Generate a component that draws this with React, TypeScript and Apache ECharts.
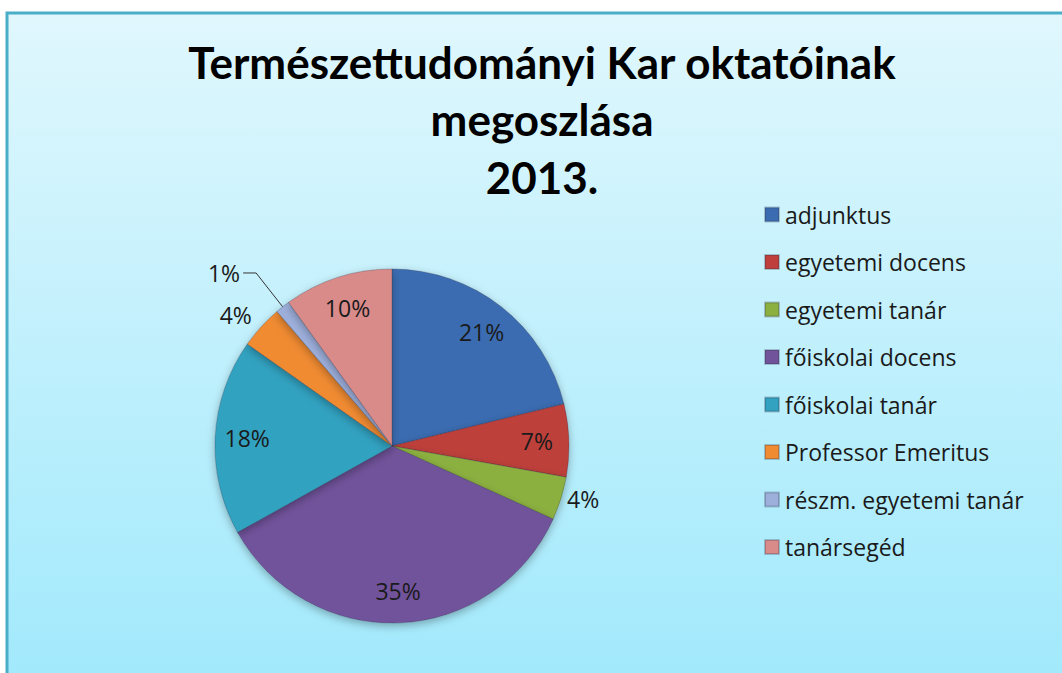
import React, { useEffect, useRef } from "react";
import * as echarts from "echarts";

const categories = [
  "adjunktus",
  "egyetemi docens",
  "egyetemi tanár",
  "főiskolai docens",
  "főiskolai tanár",
  "Professor Emeritus",
  "részm. egyetemi tanár",
  "tanársegéd",
];
const values = [32, 10, 6, 53, 27, 6, 2, 15];
const colors = ["#3B6CB1", "#BE3F3B", "#8CB03F", "#71539B", "#33A2C1", "#F08B32", "#9DAFDB", "#D98B8A"];
const titleText = "Természettudományi Kar oktatóinak\nmegoszlása\n2013.";
// which labels sit outside the pie
const outsideIdx = [2, 5, 6];

export default function App() {
  const ref = useRef<HTMLDivElement>(null);
  useEffect(() => {
    document.body.style.margin = "0";
    const chart = echarts.init(ref.current!, undefined, { renderer: "svg" });
    const fmt = (p: any) => Math.round(p.percent) + "%";
    const labelFont = { fontFamily: "Open Sans", fontSize: 23, color: "#1a1a1a" };

    const mainData = categories.map((name, i) => {
      const item: any = { name, value: values[i], itemStyle: { color: colors[i] } };
      if (i === 2) {
        item.label = { show: true, position: "outside", distanceToLabelLine: 4 };
        item.labelLine = { show: false, length: 0, length2: 2 };
      } else if (i === 5) {
        item.label = { show: true, position: "outside", distanceToLabelLine: -4 };
        item.labelLine = { show: false, length: 18, length2: 0 };
      } else if (i === 6) {
        item.label = { show: true, position: "outside", distanceToLabelLine: 3 };
        item.labelLine = { show: true, length: 43, length2: 13, lineStyle: { color: "#333", width: 1 } };
      } else {
        item.label = { show: false };
        item.labelLine = { show: false };
      }
      return item;
    });

    const ghostData = categories.map((name, i) => ({
      name,
      value: values[i],
      label: { show: outsideIdx.indexOf(i) < 0 },
    }));

    chart.setOption({
      animation: false,
      backgroundColor: "#ffffff",
      graphic: [
        {
          type: "rect",
          z: -10,
          shape: { x: 7, y: 13, width: 1070, height: 680 },
          style: {
            fill: new echarts.graphic.LinearGradient(0, 0, 0, 1, [
              { offset: 0, color: "#E0F7FD" },
              { offset: 1, color: "#A0E9FC" },
            ]),
            stroke: "#4AAEC8",
            lineWidth: 3,
          },
          silent: true,
        },
      ],
      title: {
        text: titleText,
        left: 542,
        top: 33,
        padding: 0,
        textAlign: "center",
        textStyle: {
          fontFamily: "Lato",
          fontWeight: "bold",
          fontSize: 44,
          lineHeight: 57.5,
          color: "#000000",
        },
      },
      legend: {
        orient: "vertical",
        left: 759,
        top: 198,
        itemWidth: 14,
        itemHeight: 14,
        itemGap: 24.5,
        icon: "rect",
        data: categories,
        textStyle: { fontFamily: "Open Sans", fontSize: 23, lineHeight: 22, color: "#1a1a1a", padding: [0, 0, 0, 1] },
        selectedMode: false,
      },
      series: [
        {
          type: "pie",
          name: "main",
          center: [392, 446],
          radius: 177,
          startAngle: 90,
          clockwise: true,
          avoidLabelOverlap: false,
          itemStyle: {
            borderColor: "rgba(40,40,60,0.25)",
            borderWidth: 1,
            shadowBlur: 8,
            shadowColor: "rgba(0,0,0,0.3)",
            shadowOffsetY: 3,
          },
          label: { formatter: fmt, ...labelFont },
          emphasis: { disabled: true },
          data: mainData,
        },
        {
          type: "pie",
          name: "labels",
          center: [392, 446],
          radius: [107, 177],
          startAngle: 90,
          clockwise: true,
          silent: true,
          avoidLabelOverlap: false,
          itemStyle: { color: "rgba(0,0,0,0)", borderWidth: 0 },
          label: { position: "inside", formatter: fmt, ...labelFont },
          labelLine: { show: false },
          emphasis: { disabled: true },
          data: ghostData,
        },
      ],
    });
    return () => chart.dispose();
  }, []);
  return <div ref={ref} style={{ width: 1062, height: 673 }} />;
}
